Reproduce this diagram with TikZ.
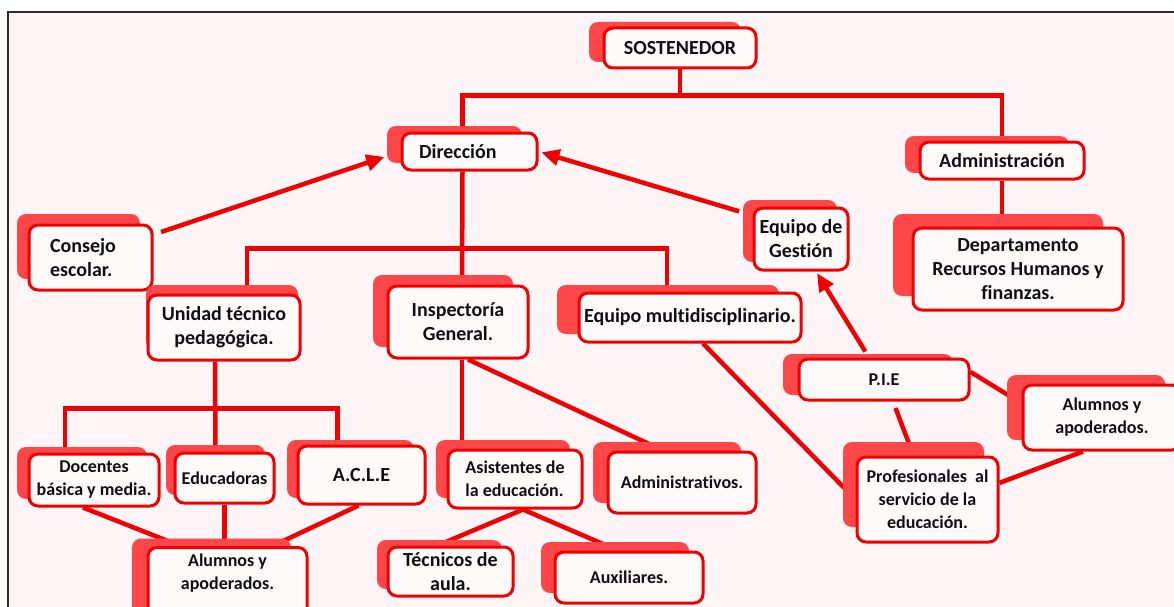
\documentclass[tikz,border=0pt]{standalone}
\usepackage{fontspec}
\setmainfont{Carlito}[Ligatures=NoCommon]
\usetikzlibrary{arrows.meta,shadows,backgrounds}
\tikzset{every picture/.style={line width=0.75pt}}

\definecolor{boxred}{RGB}{240,0,0}
\definecolor{shadered}{RGB}{255,70,72}
\definecolor{boxfill}{RGB}{255,250,250}
\definecolor{pagefill}{RGB}{255,244,246}
\definecolor{framegray}{RGB}{45,45,45}
\definecolor{inkblack}{RGB}{15,15,20}

\tikzset{
  box/.style={draw=boxred, line width=3pt, fill=boxfill, rounded corners=9pt,
    inner sep=0pt, align=center, text=inkblack,
    font=\fontsize{20}{24}\selectfont\bfseries},
  small/.style={font=\fontsize{18}{23}\selectfont\bfseries},
  sh/.style 2 args={general shadow={fill=shadered, shadow xshift=#1pt, shadow yshift=#2pt}},
  wh/.style 2 args={minimum width=#1pt, minimum height=#2pt},
  conn/.style={draw=boxred, line width=4.5pt},
  arr/.style={conn, -{Triangle[length=18pt,width=16pt]}},
}

\begin{document}
\begin{tikzpicture}[x=1pt,y=1pt,yscale=-1]
\useasboundingbox (0,0) rectangle (1174,607);

%Frame
\begin{scope}[on background layer]
\fill[pagefill] (8,12) rectangle (1200,640);
\draw[framegray, line width=1.5pt] (8,640) -- (8,12) -- (1200,12);
\end{scope}

%Boxes: top
\node[box, wh={152}{40}, sh={-15}{6}] (sost) at (680,48) {SOSTENEDOR};
\node[box, minimum height=37pt, text width=101pt, inner xsep=17pt, align=left, sh={-15}{7}] (dir) at (469.5,151.5) {Dirección};
\node[box, wh={164}{37}, sh={-15}{6}] (adm) at (1002,160.5) {Administración};
\node[box, wh={210}{82}, sh={-20}{14}] (dept) at (1018,269) {Departamento\\Recursos Humanos y\\finanzas.};
\node[box, minimum height=65pt, text width=81pt, inner xsep=21pt, align=left, sh={-12}{11}] (cons) at (90.5,257.5) {Consejo\\escolar.};
\node[box, wh={94}{62}, sh={-11}{8}] (gest) at (801,239) {Equipo de\\Gestión};

%Boxes: middle
\node[box, wh={152}{65}, sh={-2}{10}] (uni) at (224,327.5) {Unidad técnico\\pedagógica.};
\node[box, wh={140}{72}, sh={-15}{11}] (insp) at (458,322) {Inspectoría\\General.};
\node[box, wh={222}{49}, sh={-22}{8}] (emul) at (690,317.5) {Equipo multidisciplinario.};
\node[box, small, wh={170}{41}, sh={-16}{5}] (pie) at (884,379.5) {P.I.E};
\node[box, small, wh={158}{65}, sh={-16}{10}] (aluB) at (1102,417.5) {Alumnos y\\apoderados.};

%Boxes: bottom
\node[box, small, wh={130}{52}, sh={-12}{7}] (doc) at (94,480) {Docentes\\básica y media.};
\node[box, small, wh={99}{50}, sh={-9}{8}] (educ) at (224.5,478) {Educadoras};
\node[box, wh={127}{58}, sh={-11}{6}] (acle) at (361.5,475) {A.C.L.E};
\node[box, small, minimum width=159pt, inner ysep=6pt, text depth=40pt, anchor=north, sh={-16}{9}] (aluA) at (227.5,546) {Alumnos y\\apoderados.};
\node[box, small, wh={134}{58}, align=left, sh={-12}{10}] (asis) at (515,479) {Asistentes de\\la educación.};
\node[box, small, wh={148}{61}, sh={-15}{10}] (admv) at (682,482.5) {Administrativos.};
\node[box, wh={125}{49}, sh={-11}{7}] (tec) at (450.5,571.5) {Técnicos de\\aula.};
\node[box, small, wh={148}{51}, sh={-14}{10}] (aux) at (629,577.5) {Auxiliares.};
\node[box, small, wh={141}{85}, sh={-14}{15}] (prof) at (927.5,499.5) {Profesionales\ \ al\\servicio de la\\educación.};

%Connectors
\begin{scope}[on background layer]
\draw[conn] (sost.south) -- ++(0,26) -| ([xshift=-7pt]dir.north);
\draw[conn] (sost.south) ++(0,26) -| (adm.north);
\draw[conn] (adm.south) -- (adm.south |- dept.north);
\draw[conn] ([xshift=-7pt]dir.south) -- ([xshift=4pt]insp.north);
\draw[conn] ([xshift=23pt]uni.north) -- ++(0,-45) -| ([xshift=-23pt]emul.north);
\draw[conn] ([xshift=-9pt]uni.south) -- ([xshift=-9pt]educ.north);
\draw[conn] ([xshift=-29pt]doc.north) -- ++(0,-44) -| ([xshift=-24pt]acle.north);
\draw[conn] ([xshift=-11pt]doc.south) -- ([xshift=-47pt]aluA.north);
\draw[conn] (educ.south) -- (educ.south |- aluA.north);
\draw[conn] ([xshift=-3pt]acle.south) -- ([xshift=45pt]aluA.north);
\draw[conn] ([xshift=4pt]insp.south) -- ([xshift=-53pt]asis.north);
\draw[conn] ([xshift=10pt]insp.south) -- ([xshift=-19pt]admv.north);
\draw[conn] ([xshift=8pt]asis.south) -- ([xshift=-13pt]tec.north);
\draw[conn] ([xshift=8pt]asis.south) -- ([xshift=-11pt]aux.north);
\draw[conn] ([xshift=13pt]emul.south) -- (prof.west);
\draw[conn, shorten <=7pt] ([xshift=9pt]pie.south) -- ([xshift=-14pt]prof.north);
\draw[conn] (pie.5) -- (aluB.170);
\draw[conn] ([xshift=-19pt]aluB.south) -- (prof.13);
\draw[arr, shorten <=8pt, shorten >=17pt] (cons.20) -- (dir.west);
\draw[arr, shorten <=14pt, shorten >=3pt] (gest.154) -- (dir.east);
\draw[arr, shorten <=7pt, shorten >=2pt] ([xshift=-15pt]pie.north) -- ([xshift=15pt]gest.south);
\end{scope}
\end{tikzpicture}
\end{document}
